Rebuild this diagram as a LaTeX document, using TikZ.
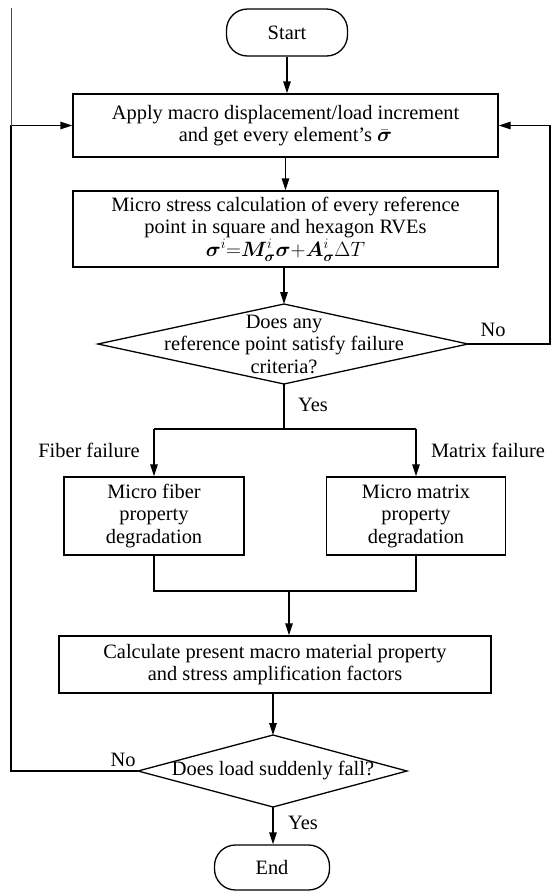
\documentclass[tikz,border=0pt]{standalone}
\usepackage{amsmath,bm}
\usepackage{fontspec}
\setmainfont{Liberation Serif}
\usetikzlibrary{arrows.meta}
\begin{document}
\begin{tikzpicture}[x=1pt,y=-1pt,
  font=\fontsize{20.4}{22.5}\selectfont,
  box/.style={draw,line width=1.3pt,inner sep=0pt,align=center},
  term/.style={box,rounded corners=21pt},
  arr/.style={-{Triangle[length=12pt,width=7.5pt]}},
  conn/.style={line width=1.3pt},
  lab/.style={inner sep=0pt}]
\useasboundingbox (0,0) rectangle (551,892);
% nodes
\node[term,minimum width=121pt,minimum height=47pt] (start) at (287,32.5) {Start};
\node[box,minimum width=425pt,minimum height=63pt] (b1) at (285.5,125.5)
  {Apply macro displacement/load increment\\and get every element's $\bar{\bm{\sigma}}$};
\node[box,minimum width=425pt,minimum height=76pt] (b2) at (285.5,229)
  {Micro stress calculation of every reference\\point in square and hexagon RVEs\\
   $\bm{\sigma}^{i}{=}\bm{M}^{i}_{\bm{\sigma}}\bm{\sigma}{+}\bm{A}^{i}_{\bm{\sigma}}\Delta T$};
% diamond 1
\coordinate (d1t) at (284,304);
\coordinate (d1b) at (284,384);
\coordinate (d1l) at (98,344);
\coordinate (d1r) at (468,344);
\draw[conn] (d1t) -- (d1r) -- (d1b) -- (d1l) -- cycle;
\node[lab,align=center] (d1) at (284,344) {Does any\\reference point satisfy failure\\criteria?};
\node[box,minimum width=180pt,minimum height=78pt] (fib) at (154,516)
  {Micro fiber\\property\\degradation};
\node[box,minimum width=179pt,minimum height=78pt] (mat) at (416,516)
  {Micro matrix\\property\\degradation};
\node[box,minimum width=432pt,minimum height=57pt] (calc) at (275,664.5)
  {Calculate present macro material property\\and stress amplification factors};
% diamond 2
\coordinate (d2t) at (273,735);
\coordinate (d2b) at (273,807);
\coordinate (d2l) at (138,771);
\coordinate (d2r) at (407,771);
\draw[conn] (d2t) -- (d2r) -- (d2b) -- (d2l) -- cycle;
\node[lab] (d2) at (273,771) {Does load suddenly fall?};
\node[term,minimum width=115pt,minimum height=45pt] (end) at (272,867.5) {End};
% labels
\node[lab] (no1) at (493,330) {No};
\node[lab] (yes1) at (313,405) {Yes};
\node[lab] (ff) at (89,450) {Fiber failure};
\node[lab] (mf) at (488,450) {Matrix failure};
\node[lab] (no2) at (123,760) {No};
\node[lab] (yes2) at (303,823) {Yes};
% connectors
\draw[conn,arr] (start.south) -- (start.south |- b1.north);
\draw[conn,arr] (b1.south) -- (b2.north);
\draw[conn,arr] (b2.south -| d1t) -- (d1t);
\coordinate (br) at (284,429);
\draw[conn] (d1b) -- (br);
\draw[conn] (fib.north |- br) -- (mat.north |- br);
\draw[conn,arr] (fib.north |- br) -- (fib.north);
\draw[conn,arr] (mat.north |- br) -- (mat.north);
\coordinate (mg) at (289,591);
\draw[conn] (fib.south) -- (fib.south |- mg) -- (mat.south |- mg) -- (mat.south);
\draw[conn,arr] (mg) -- (mg |- calc.north);
\draw[conn,arr] (calc.south -| d2t) -- (d2t);
\draw[conn,arr] (d2b) -- (d2b |- end.north);
\coordinate (lft) at (11,771);
\coordinate (ltop) at (11,8);
\draw[conn,arr] (d2l) -- (lft) |- (b1.west);
\draw[line width=0.7pt,black!70] (lft |- b1.west) -- (ltop);
\coordinate (rgt) at (550,344);
\draw[conn,arr] (d1r) -- (rgt) |- (b1.east);
\end{tikzpicture}
\end{document}
